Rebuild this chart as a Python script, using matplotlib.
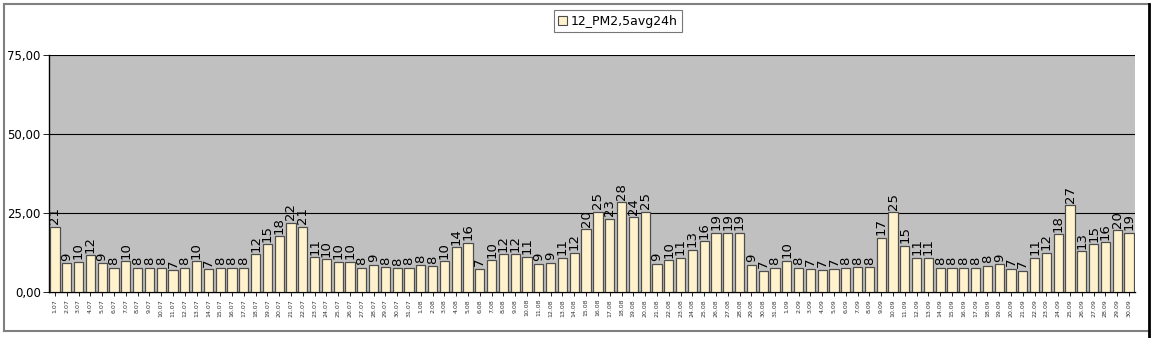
import matplotlib
matplotlib.use("Agg")
import matplotlib.pyplot as plt
from matplotlib.patches import Rectangle
from matplotlib.lines import Line2D

days = ([f"{d}.07" for d in range(1, 32)] + [f"{d}.08" for d in range(1, 32)]
        + [f"{d}.09" for d in range(1, 31)])

july = [20.7, 9.1, 9.5, 11.6, 9.1, 7.6, 9.8, 7.7, 7.7, 7.7, 6.9, 7.7, 9.8, 7.2, 7.6, 7.6,
        7.7, 12.0, 15.1, 17.6, 21.9, 20.6, 11.0, 10.3, 9.6, 9.6, 7.6, 8.7, 7.8, 7.5, 7.7]
aug = [8.5, 8.1, 9.8, 14.1, 15.6, 7.4, 10.0, 12.0, 12.0, 11.2, 8.9, 9.2, 10.9, 12.4,
       19.8, 25.4, 23.1, 28.4, 23.6, 25.4, 8.9, 10.1, 10.8, 13.3, 16.1, 18.8, 18.8, 18.8,
       8.7, 6.8, 7.6]
sep = [9.9, 7.7, 7.4, 7.1, 7.3, 7.7, 7.9, 7.9, 17.1, 25.3, 14.7, 10.8, 10.8, 7.7, 7.7, 7.7,
       7.7, 8.3, 8.8, 7.3, 6.8, 10.8, 12.4, 18.2, 27.4, 12.9, 15.1, 15.7, 19.6, 18.7]
values = july + aug + sep
series_name = "12_PM2,5avg24h"
yticks = [0, 25, 50, 75]

W, H = 1155, 338
fig = plt.figure(figsize=(W / 100, H / 100), dpi=100)
fig.patch.set_facecolor("white")

# outer frame lines
fig.add_artist(Line2D([4 / W, 1149 / W], [1 - 4 / H, 1 - 4 / H], color="#808080", lw=1.5))
fig.add_artist(Line2D([4 / W, 4 / W], [1 - 4 / H, 1 - 331 / H], color="#808080", lw=1.5))
fig.add_artist(Line2D([4 / W, 1149 / W], [1 - 331 / H, 1 - 331 / H], color="#808080", lw=1.5))
fig.add_artist(Line2D([1149 / W, 1149 / W], [1 - 4 / H, 1 - 338 / H], color="black", lw=2))

left, right, top, bottom = 49, 1135, 55, 292
ax = fig.add_axes([left / W, 1 - bottom / H, (right - left) / W, (bottom - top) / H])
ax.set_facecolor("#C0C0C0")

x = list(range(len(values)))
bars = ax.bar(x, values, width=0.78, color="#FFF2CC", edgecolor="#4d4d4d", linewidth=0.9,
              zorder=3, label=series_name)
for xi, v in zip(x, values):
    ax.text(xi, v + 0.8, f"{round(v)}", rotation=90, ha="center", va="bottom",
            fontsize=9.5, color="black", zorder=4)

ax.set_xlim(-0.5, len(values) - 0.5)
ax.set_ylim(0, 75)
ax.set_yticks(yticks)
ax.set_yticklabels([f"{t:.2f}".replace(".", ",") for t in yticks], fontsize=8.5)
for t in yticks[1:]:
    ax.axhline(t, color="black", lw=0.8, zorder=1)
ax.set_xticks(x)
ax.set_xticklabels(days, rotation=90, fontsize=4.5, color="#333333")
ax.tick_params(axis="x", length=3, width=0.6, pad=2)
ax.tick_params(axis="y", length=4, width=0.6, pad=2)
for s in ["top", "right"]:
    ax.spines[s].set_visible(False)
ax.spines["left"].set_color("black")
ax.spines["left"].set_linewidth(1)
ax.spines["bottom"].set_color("black")
ax.spines["bottom"].set_linewidth(1)

leg = fig.legend(handles=[Rectangle((0, 0), 1, 1, facecolor="#FFF2CC", edgecolor="#4d4d4d", lw=0.8)],
                 labels=[series_name], loc="center", bbox_to_anchor=(618 / W, 1 - 21 / H),
                 fontsize=9, frameon=True, fancybox=False, handlelength=0.7, handleheight=0.7,
                 handletextpad=0.3, borderpad=0.35)
leg.get_frame().set_edgecolor("#555555")
leg.get_frame().set_linewidth(0.8)

fig.savefig("out.png", dpi=100)
